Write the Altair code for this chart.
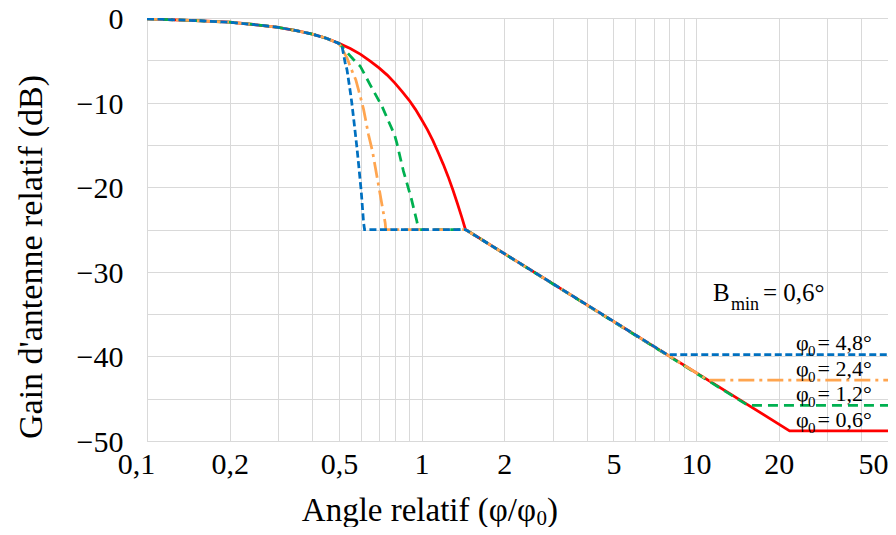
import altair as alt
import pandas as pd

# ---- data (relative angle phi/phi0, relative gain dB)
lobe_x = [0.1, 0.15, 0.2, 0.25, 0.3, 0.35, 0.4, 0.45, 0.5]
lobe_y = [-0.1, -0.3, -0.5, -0.8, -1.1, -1.5, -1.9, -2.4, -3.0]

red_x = [0.55, 0.6, 0.65, 0.7, 0.75, 0.8, 0.85, 0.9, 0.95, 1.0, 1.05, 1.1, 1.15,
         1.2, 1.25, 1.3, 1.35, 1.4, 1.445, 21.9, 50]
red_y = [-3.6, -4.3, -5.1, -5.9, -6.75, -7.7, -8.7, -9.7, -10.8, -12.0, -13.2, -14.5, -15.9,
         -17.3, -18.75, -20.3, -21.9, -23.5, -25.0, -48.8, -48.8]

green_x = [0.565, 0.598, 0.65, 0.717, 0.758, 0.797, 0.813, 0.859, 0.917, 0.961, 0.975, 1.445, 15.45, 50]
green_y = [-4.9, -5.7, -7.9, -10.4, -12.2, -13.8, -14.8, -18.1, -21.3, -24.0, -25.0, -25.0, -45.8, -45.8]

orange_x = [0.535, 0.554, 0.576, 0.598, 0.615, 0.641, 0.663, 0.700, 0.737, 0.741, 1.445, 11.05, 50]
orange_y = [-4.7, -6.0, -7.3, -9.25, -10.8, -13.8, -15.8, -20.1, -24.2, -25.0, -25.0, -42.8, -42.8]

blue_x = [0.513, 0.527, 0.535, 0.55, 0.557, 0.57, 0.581, 0.589, 0.603, 0.615, 0.62, 1.445, 7.86, 50]
blue_y = [-3.3, -5.3, -6.1, -8.7, -10.0, -12.8, -15.2, -17.1, -20.5, -24.2, -25.0, -25.0, -39.8, -39.8]

series_names = ["φ0 = 0,6°", "φ0 = 1,2°", "φ0 = 2,4°", "φ0 = 4,8°"]
phi0_labels = ["= 0,6°", "= 1,2°", "= 2,4°", "= 4,8°"]

x_tick_values = [0.1, 0.2, 0.5, 1, 2, 5, 10, 20, 50]
x_tick_labels = ["0,1", "0,2", "0,5", "1", "2", "5", "10", "20", "50"]
x_grid_values = [0.1, 0.2, 0.3, 0.4, 0.5, 0.6, 0.7, 0.8, 0.9,
                 1, 2, 3, 4, 5, 6, 7, 8, 9, 10, 20, 30, 40, 50]
y_grid_values = [0, -5, -10, -15, -20, -25, -30, -35, -40, -45, -50]

FONT = "Liberation Serif"
GRID = "#d9d9d9"

label_expr = "".join(
    f"datum.value == {v} ? '{l}' : " for v, l in zip(x_tick_values, x_tick_labels)
) + "''"

xscale = alt.Scale(type="log", domain=[0.1, 50], nice=False)
yscale = alt.Scale(domain=[-50, 0], nice=False, zero=False)

xaxis = alt.Axis(
    values=x_grid_values, labelExpr=label_expr, title=None,
    grid=True, gridColor=GRID, gridWidth=1,
    ticks=False, tickSize=0, domain=True, domainColor=GRID,
    labelFont=FONT, labelFontSize=30, labelColor="black", labelPadding=8,
    labelOverlap=False, labelBound=False, labelFlush=False,
    labelOffset={"condition": [{"test": "datum.value == 0.1", "value": -11},
                               {"test": "datum.value == 50", "value": -15}],
                 "value": 0},
)
yaxis = alt.Axis(
    values=y_grid_values, labelExpr="datum.value % 10 == 0 ? datum.label : ''", title=None,
    grid=True, gridColor=GRID, gridWidth=1,
    ticks=False, tickSize=0, domain=True, domainColor=GRID,
    labelFont=FONT, labelFontSize=30, labelColor="black", labelPadding=24,
    labelOverlap=False, labelOffset=1.5,
)


def series_df(xs, ys, name):
    allx = lobe_x + xs
    ally = lobe_y + ys
    return pd.DataFrame({"x": allx, "y": ally, "i": list(range(len(allx))), "s": name})


specs = [
    (red_x, red_y, series_names[0], "#FF0000", None),
    (green_x, green_y, series_names[1], "#00B050", [10, 6]),
    (orange_x, orange_y, series_names[2], "#FFA54F", [16, 5, 3, 5]),
    (blue_x, blue_y, series_names[3], "#0070C0", [7, 3.5]),
]

layers = []
for k, (xs, ys, name, col, dash) in enumerate(specs):
    kw = dict(color=col, strokeWidth=2.75, strokeCap="butt", clip=True)
    if dash is not None:
        kw["strokeDash"] = dash
    ch = alt.Chart(series_df(xs, ys, name)).mark_line(**kw).encode(
        x=alt.X("x:Q", scale=xscale, axis=xaxis),
        y=alt.Y("y:Q", scale=yscale, axis=yaxis),
        order="i:Q",
    )
    layers.append(ch)

# plot origin on page: (147, 18)
OX, OY = 147, 18


def txt(s, X, Y, size, align="left", baseline="alphabetic", angle=None):
    kw = dict(font=FONT, fontSize=size, color="black", align=align, baseline=baseline)
    if angle is not None:
        kw["angle"] = angle
    return alt.Chart(pd.DataFrame({"t": [s]})).mark_text(**kw).encode(
        text="t:N", x=alt.value(X - OX), y=alt.value(Y - OY)
    )


# legend-like annotations (blue, orange, green, red from top)
ann_base = [350, 376, 400.5, 426.5]
ann_text = [phi0_labels[3], phi0_labels[2], phi0_labels[1], phi0_labels[0]]
for b, t in zip(ann_base, ann_text):
    layers.append(txt("φ", 796, b, 22))
    layers.append(txt("0", 808, b + 6, 15))
    layers.append(txt(t, 817.5, b, 22))

# B_min = 0,6°
layers.append(txt("B", 713, 300.5, 25))
layers.append(txt("min", 731, 310, 18))
layers.append(txt("= 0,6°", 763, 300.5, 25))

# axis titles
layers.append(txt("Angle relatif (φ/φ", 536, 520.5, 33, align="right"))
layers.append(txt("0", 536.5, 525, 21))
layers.append(txt(")", 547, 520.5, 33))
layers.append(txt("Gain d'antenne relatif (dB)", 32, 257, 34, align="center", baseline="middle", angle=270))

chart = alt.layer(*layers).properties(
    width=741, height=423,
    autosize=alt.AutoSizeParams(type="none"),
    padding={"left": 139, "top": 10, "right": 0, "bottom": 86},
).configure_view(stroke=None).configure(background="white")

chart.save("out.html", embed_options={"renderer": "svg", "actions": False})
